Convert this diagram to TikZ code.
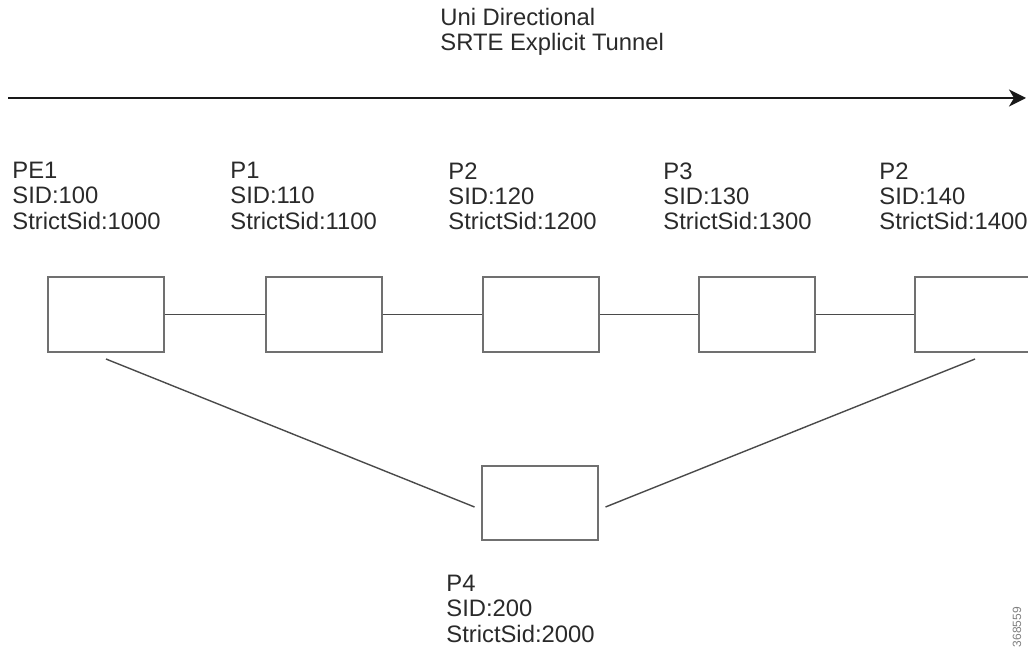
\documentclass[tikz,border=0pt]{standalone}
\usepackage{fontspec}
\setmainfont{Liberation Sans}
\usetikzlibrary{arrows.meta, calc, positioning}
\definecolor{boxgray}{HTML}{707070}
\definecolor{linkgray}{HTML}{4A4A4A}
\definecolor{txtgray}{HTML}{2A2A2A}
\tikzset{
  % router del tunnel
  router/.style={draw=boxgray, line width=1pt, minimum width=58pt,
    minimum height=37pt, inner sep=0pt, fill=white},
  % collegamenti tra router
  link/.style={draw=linkgray, line width=0.7pt},
  % etichette (nome, SID)
  lbl/.style={anchor=north west, inner sep=0pt, align=left, text=txtgray,
    font=\fontsize{11.9}{12.6}\selectfont},
  % direzione del tunnel
  tunnel/.style={-{Stealth[length=8.5pt, width=8.5pt, inset=2.5pt]}, line width=1.1pt, black!90},
}

\begin{document}
\begin{tikzpicture}[x=0.5pt, y=-0.5pt]
  \useasboundingbox (0,0) rectangle (1028,652);
  \clip (0,0) rectangle (1028,652);
  % tunnel
  \node[lbl] (title) at (440,8) {Uni Directional\\SRTE Explicit Tunnel};
  \coordinate (tin) at (8,98);
  \coordinate (tout) at (1026,98);
  \draw[tunnel] (tin) -- (tout);
  % router
  \node[router] (pe1) at (105.5,314.5) {};
  \node[router] (p1) at (323.5,314.5) {};
  \node[router] (p2) at (541,314.5) {};
  \node[router] (p3) at (756.5,314.5) {};
  \node[router] (p2b) at (973,314.5) {};
  \node[router] (p4) at (540,502.5) {};
  \node[lbl] (pe1lbl) at (12,162) {PE1\\SID:100\\StrictSid:1000};
  \node[lbl] (p1lbl) at (230,162) {P1\\SID:110\\StrictSid:1100};
  \node[lbl] (p2lbl) at (448,162) {P2\\SID:120\\StrictSid:1200};
  \node[lbl] (p3lbl) at (663,162) {P3\\SID:130\\StrictSid:1300};
  \node[lbl] (p2blbl) at (879,162) {P2\\SID:140\\StrictSid:1400};
  \node[lbl] (p4lbl) at (446,575) {P4\\SID:200\\StrictSid:2000};
  % collegamenti
  \draw[link] (pe1) -- (p1);
  \draw[link] (p1) -- (p2);
  \draw[link] (p2) -- (p3);
  \draw[link] (p3) -- (p2b);
  \draw[link] ($(pe1.south)+(0.5,6.5)$) -- ($(p4.west)+(-6.5,4.5)$);
  \draw[link] ($(p4.east)+(6.5,4.5)$) -- ($(p2b.south)+(2,6.5)$);
  \node[rotate=90, inner sep=0pt, text=gray, font=\fontsize{6}{6}\selectfont] (figid) at (1017,627) {368559};
\end{tikzpicture}
\end{document}
